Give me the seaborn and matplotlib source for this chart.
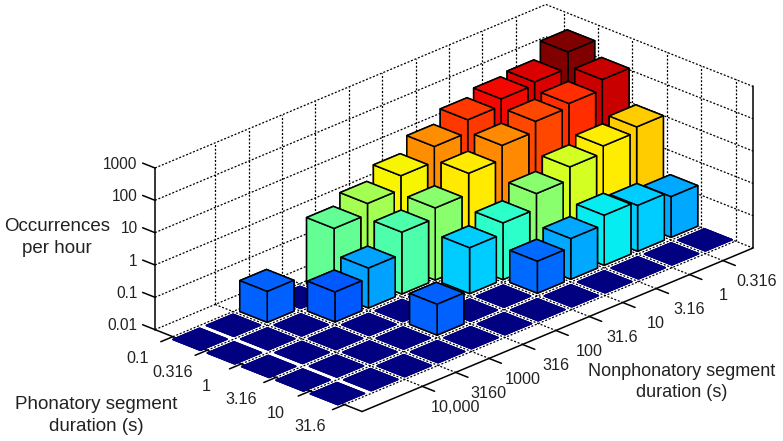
import numpy as np
import seaborn as sns
import matplotlib.pyplot as plt
from mpl_toolkits.mplot3d import proj3d

# tick labels
phon_labels = ["0.1", "0.316", "1", "3.16", "10", "31.6"]
nonphon_labels = ["0.316", "1", "3.16", "10", "31.6", "100", "316", "1000", "3160", "10,000"]
z_labels = ["0.01", "0.1", "1", "10", "100", "1000"]

# occurrences per hour, back (right) to front along nonphonatory axis
row_0 = [299, 95, 77, 47, 19, 6.4, 2.4, 1.1, 0.01, 0.09, 0.01, 0.01]
row_1 = [110, 54, 41, 20, 7.4, 1.7, 0.82, 0.17, 0.084, 0.01, 0.01, 0.01]
row_2 = [9.9, 6.9, 4.2, 1.7, 0.57, 0.26, 0.01, 0.01, 0.01, 0.01, 0.01, 0.01]
row_3 = [0.18, 0.26, 0.35, 0.18, 0.097, 0.01, 0.01, 0.09, 0.01, 0.01, 0.01, 0.01]
row_4 = [0.01] * 12
rows = [row_0, row_1, row_2, row_3, row_4]

sns.set_style("ticks")
plt.rcParams["font.family"] = ["Liberation Sans", "DejaVu Sans"]

fig = plt.figure(figsize=(7.83, 4.41), dpi=100)
size = 636
ax = fig.add_axes([127.4 / 783, -93.6 / 441, size / 783, size / 441], projection="3d", proj_type="ortho")
ax.computed_zorder = False
ax.view_init(elev=24, azim=-45.8)
ax.set_box_aspect((289, 561, 177))

jet = plt.get_cmap("jet")
z_floor = -2
top = np.log10(max(row_0)) - 0.15
width = 0.8

# painter's order, far bars first
order = 10
for i, row in enumerate(rows):
    for k, value in enumerate(row):
        height = np.log10(value) - z_floor
        color = jet(height / (top - z_floor))
        edge = "black" if height > 0 else color
        ax.bar3d(i + 0.5 - width / 2, 9.5 - k - width / 2, z_floor, width, width, height,
                 color=color, edgecolor=edge, linewidth=1.1, shade=False, zorder=order)
        order += 1

x_min, x_max = -0.52, 5.51
y_min, y_max = -1.8, 9.9
z_min, z_max = -2, 3
x_ticks = np.arange(len(phon_labels))
y_ticks = 9 - np.arange(len(nonphon_labels))
z_ticks = np.arange(z_min, z_max + 1)

# dotted grid on the floor and both walls
grid_style = dict(color="black", linewidth=0.9, linestyle=(0, (1.6, 1.4)), zorder=1)
for x in x_ticks:
    ax.plot([x, x], [y_min, y_max], [z_min, z_min], **grid_style)
    ax.plot([x, x], [y_max, y_max], [z_min, z_max], **grid_style)
for y in y_ticks:
    ax.plot([x_min, x_max], [y, y], [z_min, z_min], **grid_style)
    ax.plot([x_min, x_min], [y, y], [z_min, z_max], **grid_style)
for z in z_ticks:
    ax.plot([x_min, x_min], [y_min, y_max], [z, z], **grid_style)
    ax.plot([x_min, x_max], [y_max, y_max], [z, z], **grid_style)

ax.set_xlim(x_min, x_max, view_margin=0)
ax.set_ylim(y_min, y_max, view_margin=0)
ax.set_zlim(z_min, z_max, view_margin=0)
ax.set_xticks([])
ax.set_yticks([])
ax.set_zticks([])
ax.grid(False)


def label_at(x, y, z, label, **kwargs):
    # project by hand so the label is a plain 2D text
    px, py, _ = proj3d.proj_transform(x, y, z, ax.get_proj())
    ax.text2D(px, py, label, transform=ax.transData, color="#222222", va="center", **kwargs)


# axis lines, ticks and their labels, MATLAB style
line_style = dict(color="black", linewidth=1.1, zorder=5)
ax.plot([x_min, x_min], [y_min, y_min], [z_min, z_max], **line_style)
for x, label in zip(x_ticks, phon_labels):
    ax.plot([x, x], [y_min, y_min - 0.36], [z_min, z_min], **line_style)
    label_at(x + 0.275, y_min - 1.325, z_min, label, fontsize=11.6, ha="center")
for y, label in zip(y_ticks, nonphon_labels):
    ax.plot([x_max, x_max + 0.36], [y, y], [z_min, z_min], **line_style)
    label_at(x_max + 1.26, y - 0.30, z_min, label, fontsize=11.6, ha="center")
for z, label in zip(z_ticks, z_labels):
    ax.plot([x_min, x_min - 0.36], [y_min, y_min], [z, z], **line_style)
    label_at(x_min - 0.40, y_min - 0.11, z, label, fontsize=11.2, ha="right")

# plot() can move the limits, put them back
ax.set_xlim(x_min, x_max, view_margin=0)
ax.set_ylim(y_min, y_max, view_margin=0)
ax.set_zlim(z_min, z_max, view_margin=0)

for axis in [ax.xaxis, ax.yaxis, ax.zaxis]:
    axis.set_pane_color((1, 1, 1, 0))
    axis.pane.set_edgecolor("none")
    axis.line.set_color("black")
    axis.line.set_linewidth(1.1)

title_style = dict(ha="center", va="center", color="#222222")
fig.text(57 / 783, 1 - 237.5 / 441, "Occurrences\nper hour", fontsize=13.5, linespacing=1.42, **title_style)
fig.text(96 / 783, 1 - 415.5 / 441, "Phonatory segment\nduration (s)", fontsize=13.5, linespacing=1.42, **title_style)
fig.text(682 / 783, 1 - 382 / 441, "Nonphonatory segment\nduration (s)", fontsize=13, linespacing=1.35, **title_style)

fig.savefig("out.png", dpi=100)
